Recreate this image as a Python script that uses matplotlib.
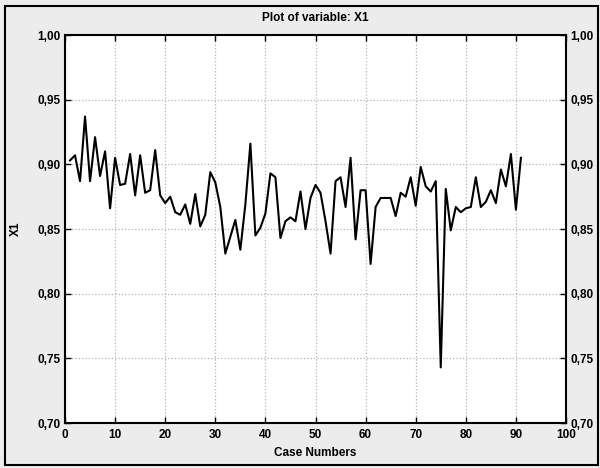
import matplotlib
matplotlib.use("Agg")
from matplotlib import pyplot as plt
from matplotlib.patches import Rectangle
from matplotlib.ticker import FuncFormatter

# values, case numbers 1..91
case_numbers = list(range(1, 92))
x1_values = [
    0.903, 0.907, 0.887, 0.937, 0.887, 0.921, 0.891, 0.910, 0.866, 0.905,
    0.884, 0.885, 0.908, 0.876, 0.907, 0.878, 0.880, 0.911, 0.876, 0.870,
    0.875, 0.863, 0.861, 0.869, 0.854, 0.877, 0.852, 0.861, 0.894, 0.886,
    0.867, 0.831, 0.844, 0.857, 0.834, 0.869, 0.916, 0.845, 0.851, 0.862,
    0.893, 0.890, 0.843, 0.856, 0.859, 0.856, 0.879, 0.850, 0.874, 0.884,
    0.878, 0.856, 0.831, 0.887, 0.890, 0.867, 0.905, 0.842, 0.880, 0.880,
    0.823, 0.867, 0.874, 0.874, 0.874, 0.860, 0.878, 0.875, 0.890, 0.868,
    0.898, 0.883, 0.879, 0.887, 0.743, 0.881, 0.849, 0.867, 0.863, 0.866,
    0.867, 0.890, 0.867, 0.871, 0.880, 0.870, 0.896, 0.883, 0.908, 0.865,
    0.905,
]
x_ticks = list(range(0, 101, 10))
y_ticks = [0.70, 0.75, 0.80, 0.85, 0.90, 0.95, 1.00]

family = ['Liberation Sans Narrow', 'Liberation Sans', 'DejaVu Sans']

fig = plt.figure(figsize=(6, 4.68), dpi=100, facecolor='#ececec')
ax = fig.add_axes([65 / 600, 1 - 423 / 468, (566 - 65) / 600, (423 - 35) / 468])
ax.set_facecolor('white')

# outer frame round the picture
fig.patches.append(Rectangle((0.008, 0.006), 0.988, 0.982, transform=fig.transFigure,
                             fill=False, edgecolor='black', linewidth=1.5))

ax.plot(case_numbers, x1_values, color='black', linewidth=1.5)

ax.set_xlim(0, 100)
ax.set_ylim(0.70, 1.00)
ax.set_xticks(x_ticks)
ax.set_yticks(y_ticks)
ax.grid(True, color='#b5b5b5', linestyle=':', linewidth=0.9)

ax.yaxis.set_major_formatter(FuncFormatter(lambda v, p: f"{v:.2f}".replace('.', ',')))
ax.tick_params(direction='in', length=4, width=1, top=True, right=True,
               labelright=True, labelsize=8.5)
ax.tick_params(axis='x', pad=4)
ax.tick_params(axis='y', pad=3)
for t in ax.xaxis.get_major_ticks() + ax.yaxis.get_major_ticks():
    for lab in (t.label1, t.label2):
        lab.set_fontfamily(family)
        lab.set_fontweight('bold')
for sp in ax.spines.values():
    sp.set_linewidth(1.5)

ax.set_title('Plot of variable: X1', fontsize=8.5, pad=10, family=family, weight='bold')
ax.set_xlabel('Case Numbers', fontsize=8.5, labelpad=5, family=family, weight='bold')
ax.set_ylabel('X1', fontsize=8.5, labelpad=11, family=family, weight='bold')

fig.savefig('out.png', dpi=100, facecolor=fig.get_facecolor())
